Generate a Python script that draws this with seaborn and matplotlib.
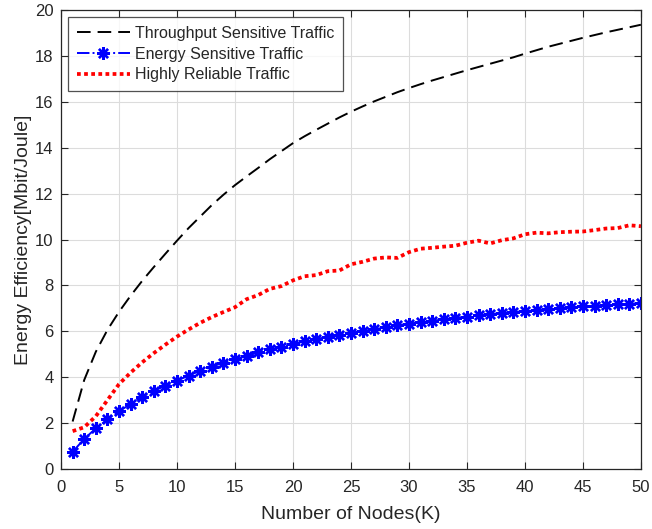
import numpy as np
import pandas as pd
import matplotlib
matplotlib.use("Agg")
import matplotlib.pyplot as plt
import seaborn as sns

sns.set_theme(style="whitegrid")
plt.rcParams['font.family'] = ['Liberation Sans', 'DejaVu Sans']

nodes = list(range(1, 51))

throughput = [2.07, 3.88, 5.11, 6.06, 6.85, 7.55, 8.2, 8.8, 9.38, 9.95,
              10.5, 11.0, 11.5, 11.95, 12.37, 12.75, 13.12, 13.5, 13.85, 14.2,
              14.5, 14.78, 15.05, 15.32, 15.57, 15.8, 16.02, 16.22, 16.42, 16.6,
              16.77, 16.93, 17.08, 17.23, 17.38, 17.52, 17.66, 17.8, 17.94, 18.1,
              18.25, 18.4, 18.53, 18.66, 18.79, 18.91, 19.03, 19.14, 19.25, 19.36]

energy = [0.75, 1.31, 1.77, 2.16, 2.52, 2.83, 3.15, 3.4, 3.63, 3.85,
          4.07, 4.28, 4.46, 4.63, 4.78, 4.92, 5.08, 5.21, 5.33, 5.45,
          5.56, 5.66, 5.76, 5.85, 5.94, 6.01, 6.09, 6.17, 6.26, 6.34,
          6.39, 6.46, 6.52, 6.59, 6.64, 6.7, 6.75, 6.8, 6.84, 6.88,
          6.93, 6.97, 7.01, 7.06, 7.09, 7.12, 7.15, 7.18, 7.2, 7.23]

reliable = [1.65, 1.82, 2.3, 3.0, 3.7, 4.2, 4.65, 5.05, 5.42, 5.77,
            6.08, 6.37, 6.62, 6.84, 7.05, 7.4, 7.58, 7.85, 7.97, 8.22,
            8.4, 8.45, 8.62, 8.65, 8.92, 9.03, 9.17, 9.22, 9.2, 9.45,
            9.6, 9.64, 9.69, 9.73, 9.86, 9.95, 9.83, 9.97, 10.05, 10.23,
            10.3, 10.27, 10.32, 10.34, 10.35, 10.41, 10.48, 10.5, 10.62, 10.58]

labels = ['Throughput Sensitive Traffic', 'Energy Sensitive Traffic', 'Highly Reliable Traffic']

fig = plt.figure(figsize=(6.52, 5.29), dpi=100)
ax = fig.add_axes([0.0936, 0.1134, 0.8894, 0.8676])

sns.lineplot(x=nodes, y=throughput, ax=ax, color='black', linewidth=1.4,
             linestyle=(0, (7.0, 3.6)), label=labels[0])
sns.lineplot(x=nodes, y=energy, ax=ax, color='blue', linewidth=1.4,
             linestyle='-.', marker=(8, 2, 0), markersize=9, markeredgewidth=1.7,
             markeredgecolor='blue', label=labels[1])
sns.lineplot(x=nodes, y=reliable, ax=ax, color='red', linewidth=2.7,
             linestyle=(0, (1, 0.9)), label=labels[2])

ax.set_xlim(0, 50)
ax.set_ylim(0, 20)
ax.set_xticks(range(0, 51, 5))
ax.set_yticks(range(0, 21, 2))
ax.set_xlabel('Number of Nodes(K)', fontsize=14, color='#262626', labelpad=8)
ax.set_ylabel('Energy Efficiency[Mbit/Joule]', fontsize=14, color='#262626', labelpad=2)

ax.set_facecolor('white')
ax.grid(True, color='#dcdcdc', linewidth=0.8)
for s in ax.spines.values():
    s.set_color('#262626')
    s.set_linewidth(0.9)
    s.set_visible(True)
ax.tick_params(axis='x', pad=8)
ax.tick_params(axis='y', pad=5.5)
ax.tick_params(axis='both', which='major', direction='in', length=5, width=0.8,
               labelsize=12, colors='#262626', top=True, right=True,
               bottom=True, left=True)

leg = ax.legend(loc='upper left', fontsize=11.5, handlelength=3.3, frameon=True,
                fancybox=False, edgecolor='#262626', borderaxespad=0.45,
                labelspacing=0.35, borderpad=0.55, handletextpad=0.35)
leg.get_frame().set_linewidth(0.9)

fig.savefig('out.png', dpi=100, facecolor='white')
